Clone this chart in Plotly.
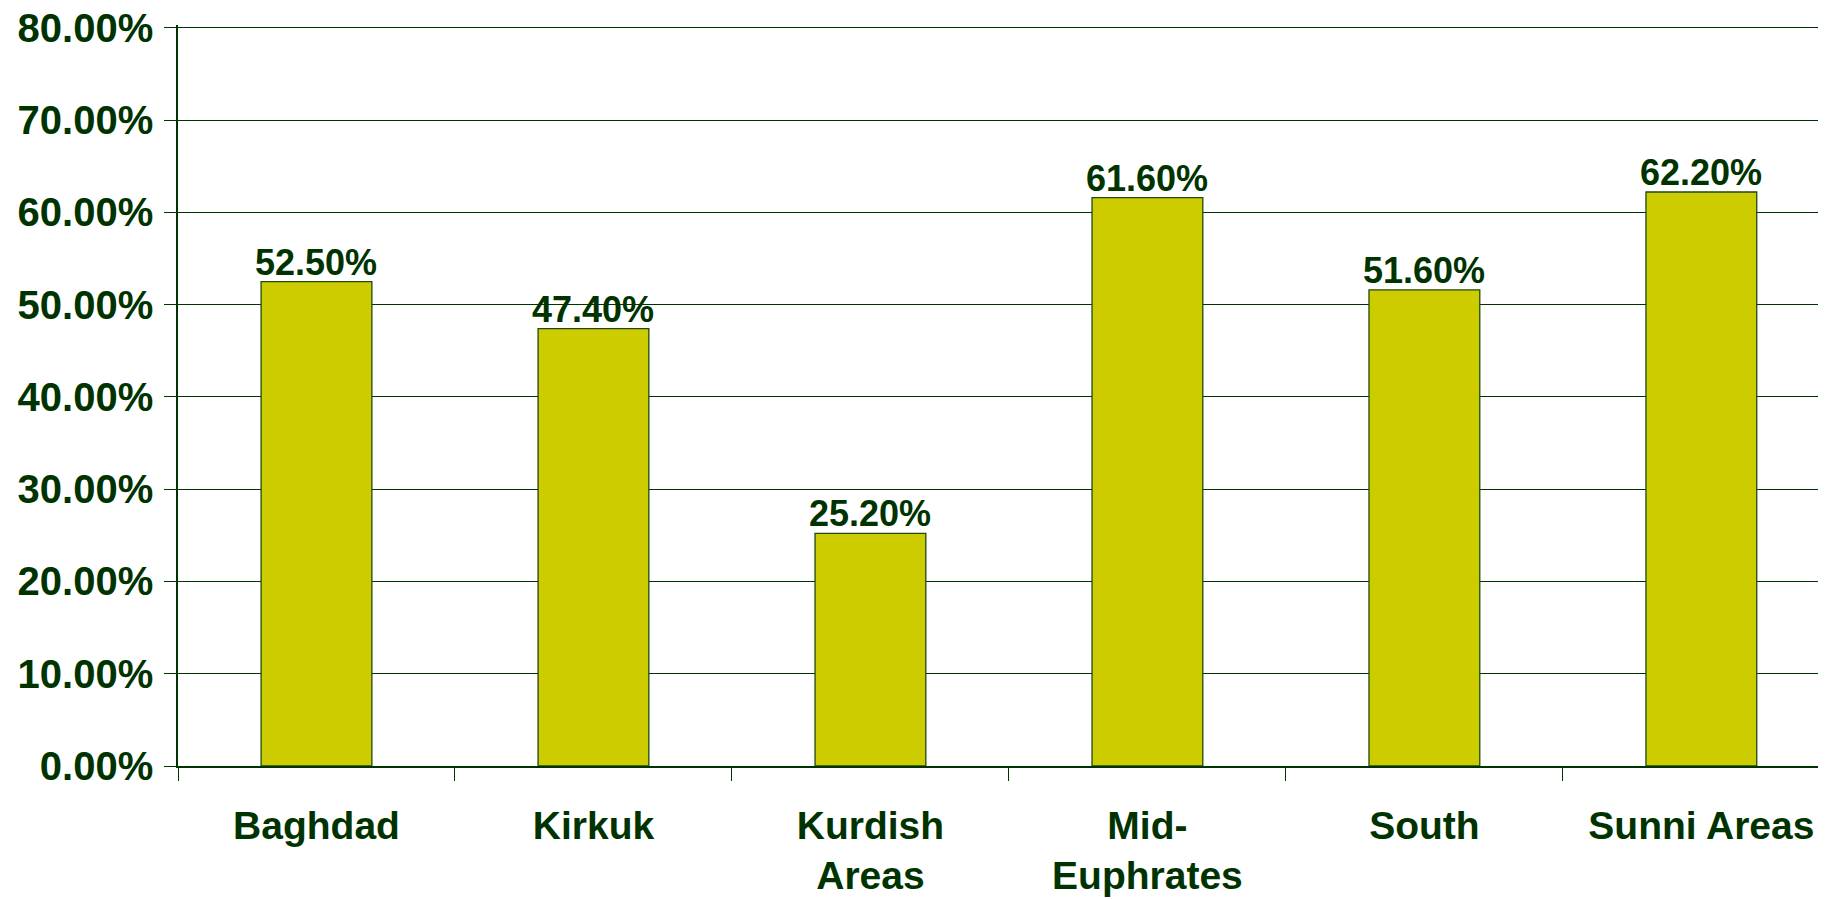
import plotly.graph_objects as go

categories = ["Baghdad", "Kirkuk", "Kurdish<br>Areas", "Mid-<br>Euphrates", "South", "Sunni Areas"]
values = [52.5, 47.4, 25.2, 61.6, 51.6, 62.2]
y_ticks = [0, 10, 20, 30, 40, 50, 60, 70, 80]

DARK = "#003300"
BAR = "#cccc00"
FONT = "Liberation Sans, Arial, sans-serif"

fig = go.Figure()
fig.add_trace(go.Bar(
    x=categories,
    y=values,
    width=0.4,
    marker=dict(color=BAR, line=dict(color="#1e4a10", width=1.3)),
    hoverinfo="skip",
))

for c, v in zip(categories, values):
    fig.add_annotation(
        x=c, y=v, xref="x", yref="y",
        text=f"{v:.2f}%", showarrow=False,
        yanchor="bottom", yshift=-3,
        font=dict(family=FONT, size=36, color=DARK, weight="bold"),
    )

fig.update_layout(
    width=1818, height=891,
    margin=dict(l=170, r=0, t=17, b=133),
    paper_bgcolor="white", plot_bgcolor="white",
    showlegend=False,
)
fig.update_xaxes(
    range=[-0.5, 5.45],
    automargin=False,
    showline=True, linecolor=DARK, linewidth=1.5,
    ticks="outside", ticklen=13, tickcolor=DARK, tickwidth=1.3,
    tickson="boundaries",
    showgrid=False,
    tickfont=dict(family=FONT, size=39, color=DARK, weight="bold"),
    ticklabelstandoff=24,
    ticklabeloverflow="allow",
)
fig.update_yaxes(
    range=[0, 80.3],
    automargin=False,
    tickvals=y_ticks,
    ticktext=[f"{t:.2f}%" for t in y_ticks],
    showline=True, linecolor=DARK, linewidth=1.5,
    ticks="outside", ticklen=12, tickcolor=DARK, tickwidth=1.3,
    showgrid=True, gridcolor=DARK, gridwidth=1.3,
    zeroline=False,
    tickfont=dict(family=FONT, size=40, color=DARK, weight="bold"),
    ticklabelstandoff=3,
    ticklabeloverflow="allow",
)

fig.write_html("out.html")
